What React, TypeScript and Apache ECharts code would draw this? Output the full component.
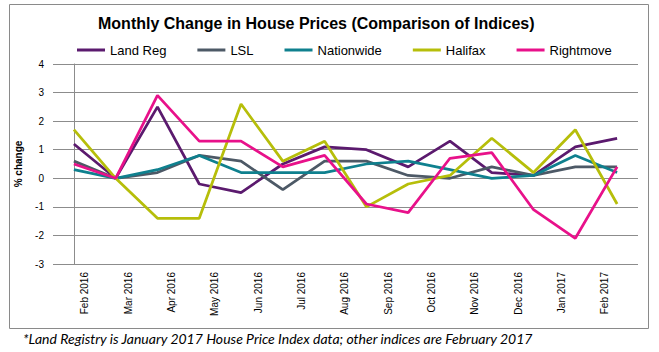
import React, { useEffect, useRef } from "react";
import * as echarts from "echarts";

const tickLabels = [
  "Feb 2016", "Mar 2016", "Apr 2016", "May 2016", "Jun 2016", "Jul 2016", "Aug 2016",
  "Sep 2016", "Oct 2016", "Nov 2016", "Dec 2016", "Jan 2017", "Feb 2017",
];

const landReg = [1.2, 0, 2.5, -0.2, -0.5, 0.5, 1.1, 1.0, 0.4, 1.3, 0.2, 0.1, 1.1, 1.4];
const lsl = [0.6, 0, 0.2, 0.8, 0.6, -0.4, 0.6, 0.6, 0.1, 0.0, 0.4, 0.1, 0.4, 0.4];
const nationwide = [0.3, 0, 0.3, 0.8, 0.2, 0.2, 0.2, 0.5, 0.6, 0.3, 0.0, 0.1, 0.8, 0.2];
const halifax = [1.7, 0, -1.4, -1.4, 2.6, 0.6, 1.3, -1.0, -0.2, 0.1, 1.4, 0.2, 1.7, -0.9];
const rightmove = [0.5, 0, 2.9, 1.3, 1.3, 0.4, 0.8, -0.9, -1.2, 0.7, 0.9, -1.1, -2.1, 0.4];

const seriesNames = ["Land Reg", "LSL", "Nationwide", "Halifax", "Rightmove"];
const seriesData = [landReg, lsl, nationwide, halifax, rightmove];
const seriesColors = ["#5b1a6e", "#4d5966", "#0f808e", "#b6be0a", "#e8118a"];

const title = "Monthly Change in House Prices (Comparison of Indices)";
const footnote = "*Land Registry is January 2017 House Price Index data; other indices are February 2017";

export default function App() {
  const ref = useRef<HTMLDivElement>(null);
  useEffect(() => {
    if (!ref.current) return;
    const chart = echarts.init(ref.current, null, { renderer: "svg" });
    const gridColor = "#8c8c8c";
    chart.setOption({
      animation: false,
      backgroundColor: "#ffffff",
      title: {
        text: title,
        left: 98,
        top: 15,
        padding: 0,
        textStyle: { fontFamily: "Liberation Sans, Arial", fontSize: 16, fontWeight: "bold", color: "#000" },
      },
      legend: {
        data: seriesNames,
        left: 77,
        top: 42,
        padding: 0,
        itemGap: 31,
        itemWidth: 28,
        itemHeight: 3,
        icon: "rect",
        textStyle: { fontFamily: "Liberation Sans, Arial", fontSize: 13, color: "#000", lineHeight: 16 },
      },
      grid: [
        { left: 53, right: 21, top: 64, bottom: 88, containLabel: false },
        { left: 63.3, width: 563.3, top: 64, bottom: 88, containLabel: false },
      ],
      xAxis: [
        {
          type: "value",
          gridIndex: 0,
          min: -0.5,
          max: 13.5,
          show: false,
        },
        {
          type: "category",
          gridIndex: 1,
          data: tickLabels,
          boundaryGap: true,
          axisLine: { show: false },
          axisTick: { show: false },
          splitLine: { show: false },
          axisLabel: {
            rotate: 90,
            margin: 8,
            interval: 0,
            fontFamily: "Liberation Sans, Arial",
            fontSize: 10,
            color: "#000",
          },
        },
      ],
      yAxis: [
        {
          type: "value",
          gridIndex: 0,
          min: -3,
          max: 4,
          interval: 1,
          name: "% change",
          nameLocation: "middle",
          nameRotate: 90,
          nameGap: 30,
          nameTextStyle: { fontFamily: "Liberation Sans, Arial", fontSize: 10, fontWeight: "bold", color: "#000" },
          axisLine: { show: true, lineStyle: { color: gridColor, width: 1 } },
          axisTick: { show: false },
          splitLine: { show: true, lineStyle: { color: gridColor, width: 1 } },
          axisLabel: { margin: 9, fontFamily: "Liberation Sans, Arial", fontSize: 10, color: "#000" },
        },
        {
          type: "value",
          gridIndex: 1,
          min: -3,
          max: 4,
          show: false,
        },
      ],
      series: seriesNames.map((name, k) => ({
        name,
        type: "line",
        xAxisIndex: 0,
        yAxisIndex: 0,
        data: seriesData[k].map((v, i) => [i, v]),
        showSymbol: false,
        symbol: "none",
        lineStyle: { color: seriesColors[k], width: 2.75 },
        itemStyle: { color: seriesColors[k] },
      })),
      graphic: [
        {
          type: "rect",
          shape: { x: 9.5, y: 4.5, width: 639, height: 324 },
          style: { fill: "none", stroke: "#8a8a8a", lineWidth: 1 },
          silent: true,
        },
        {
          type: "text",
          x: 23,
          y: 338,
          style: {
            text: footnote,
            fontFamily: "Lato",
            fontStyle: "italic",
            fontSize: 14,
            fill: "#000",
            verticalAlign: "middle",
          },
        },
      ],
    });
    return () => chart.dispose();
  }, []);
  return (
    <div
      ref={ref}
      style={{ position: "fixed", left: 0, top: 0, width: 659, height: 352 }}
    />
  );
}
